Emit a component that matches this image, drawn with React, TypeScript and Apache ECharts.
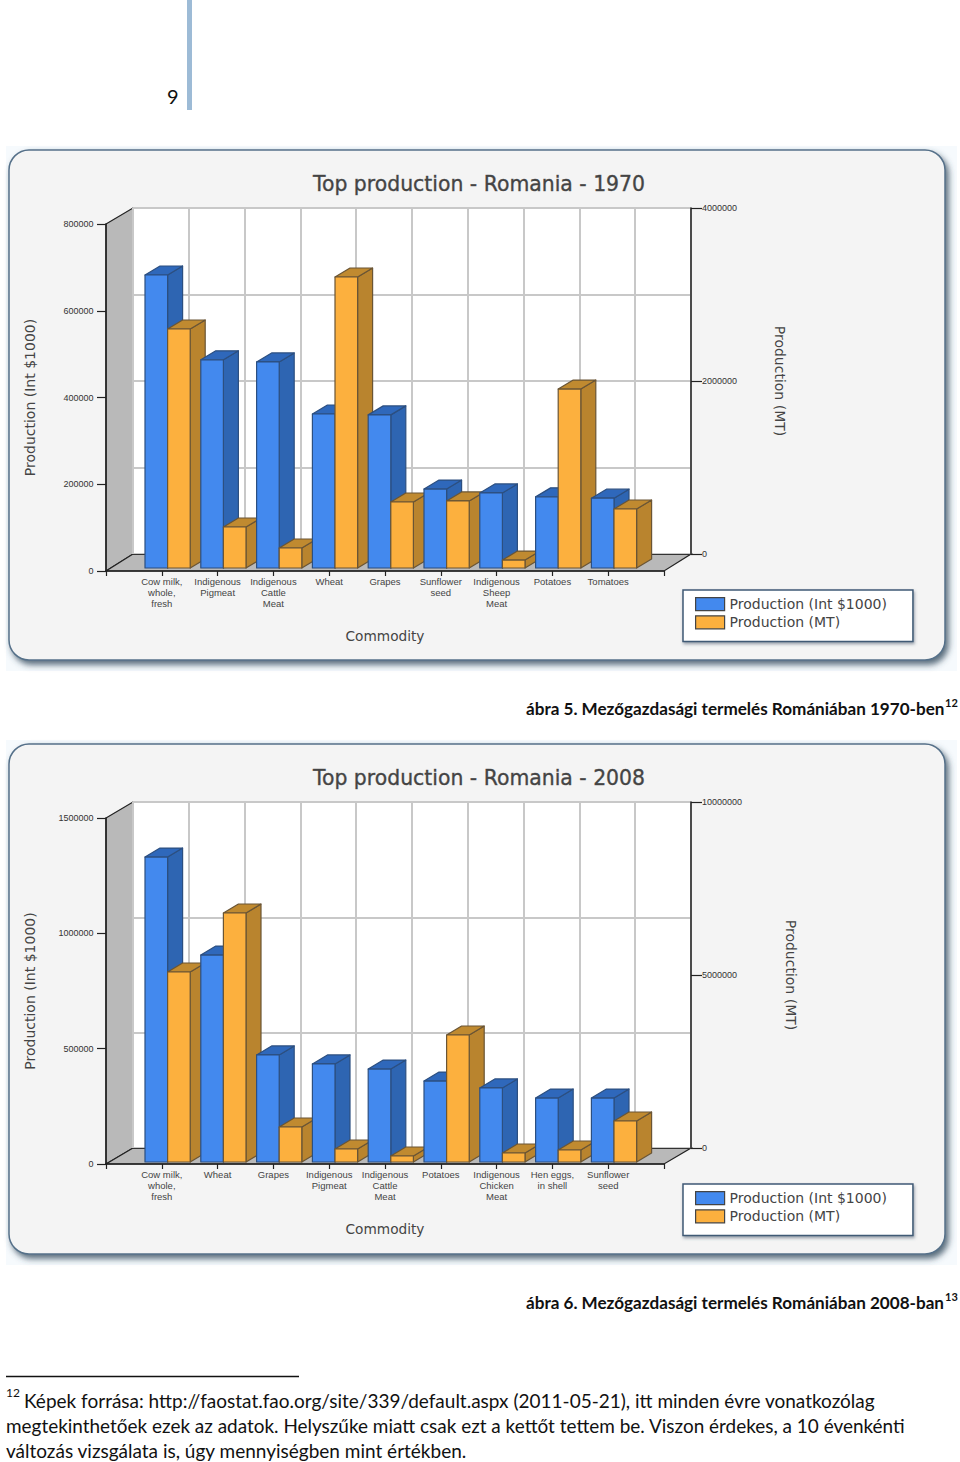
import React, { useEffect, useRef } from "react";
import * as echarts from "echarts";

const W = 960;
const H = 1462;
const BLUE_NAME = "Production (Int $1000)";
const ORANGE_NAME = "Production (MT)";

const cats1970 = ["", "Cow milk,\nwhole,\nfresh", "Indigenous\nPigmeat", "Indigenous\nCattle\nMeat", "Wheat", "Grapes", "Sunflower\nseed", "Indigenous\nSheep\nMeat", "Potatoes", "Tomatoes", " "];
const value1970 = [675500, 480000, 475000, 355000, 353000, 182000, 173000, 164000, 161000];
const tonnes1970 = [2763000, 474000, 231000, 3364000, 763000, 775000, 92000, 2069000, 682000];

const cats2008 = ["", "Cow milk,\nwhole,\nfresh", "Wheat", "Grapes", "Indigenous\nPigmeat", "Indigenous\nCattle\nMeat", "Potatoes", "Indigenous\nChicken\nMeat", "Hen eggs,\nin shell", "Sunflower\nseed", " "];
const value2008 = [1322000, 897000, 464000, 425000, 403000, 351000, 321000, 277000, 277000];
const tonnes2008 = [5491000, 7196000, 1011000, 376000, 173000, 3670000, 260000, 347000, 1185000];

const footnoteLines = [
  "Képek forrása: http://faostat.fao.org/site/339/default.aspx (2011-05-21), itt minden évre vonatkozólag",
  "megtekinthetőek ezek az adatok. Helyszűke miatt csak ezt a kettőt tettem be. Viszon érdekes, a 10 évenkénti",
  "változás vizsgálata is, úgy mennyiségben mint értékben.",
];

const BLUE = { front: "#4389ee", side: "#2e65b2", top: "#2f68bb", stroke: "#2c4f80" };
const ORANGE = { front: "#fcb03e", side: "#b9842e", top: "#c08a30", stroke: "#6a5535" };
const CHART_FONT = "DejaVu Sans";
const LABEL_FONT = "Liberation Sans";
const DOC_FONT = "Lato";
const DX = 15;
const DY = -9;

function barRenderer(c: any, shiftX: number, shiftY: number, side: number, order: number) {
  return (_p: any, api: any) => {
    const cat = api.value(0);
    const a = api.coord([cat, api.value(1)]);
    const b = api.coord([cat, 0]);
    const w = api.size([1, 0])[0] * 0.405;
    const xm = a[0] + shiftX;
    const xl = side < 0 ? xm - w : xm;
    const xr = side < 0 ? xm : xm + w;
    const yt = a[1] + shiftY;
    const yb = b[1] + shiftY;
    const z2 = cat * 10 + order;
    const st = (fill: string) => ({ fill, stroke: c.stroke, lineWidth: 1.2, lineJoin: "round" });
    return {
      type: "group",
      children: [
        { type: "polygon", z2, shape: { points: [[xr, yt], [xr + DX, yt + DY], [xr + DX, yb + DY], [xr, yb]] }, style: st(c.side) },
        { type: "polygon", z2, shape: { points: [[xl, yt], [xl + DX, yt + DY], [xr + DX, yt + DY], [xr, yt]] }, style: st(c.top) },
        { type: "rect", z2: z2 + 1, shape: { x: xl, y: yt, width: xr - xl, height: yb - yt }, style: st(c.front) },
      ],
    };
  };
}

const numFmt = (v: number) => String(v);

function chartParts(i: number, dy: number, year: string, cats: string[], blue: number[], orange: number[],
  leftMax: number, leftStep: number, rightMax: number, rightStep: number, frontTop: number, frontH: number, rightNameGap: number, blueShiftY: number) {
  const backTop = 208 + dy;
  const backH = 346;
  const frontBottom = frontTop + frontH;
  const backBottom = backTop + backH;
  const gi = i * 2;
  const yi = i * 3;
  const labelStyle = { fontFamily: LABEL_FONT, fontSize: 9, color: "#333" };
  const nameStyle = { fontFamily: CHART_FONT, fontSize: 14, color: "#444" };
  const grids = [
    { left: 106, top: frontTop, width: 558, height: frontH, containLabel: false },
    { left: 133, top: backTop, width: 558, height: backH, show: true, backgroundColor: "#ffffff", borderWidth: 0 },
  ];
  const xAxes = [
    {
      type: "category", gridIndex: gi, data: cats, boundaryGap: false,
      axisLine: { lineStyle: { color: "#222", width: 1.5 } }, axisTick: { show: true, length: 5, alignWithLabel: true, lineStyle: { color: "#222", width: 1.2 } },
      axisLabel: { interval: 0, margin: 5, fontFamily: LABEL_FONT, fontSize: 9.5, lineHeight: 11, color: "#444", verticalAlign: "top" },
      name: "Commodity", nameLocation: "middle", nameGap: 58,
      nameTextStyle: { ...nameStyle, fontSize: 13.7 },
      splitLine: { show: false },
    },
    {
      type: "category", gridIndex: gi + 1, data: cats, boundaryGap: false,
      axisLine: { show: true, lineStyle: { color: "#333", width: 1.2 } }, axisTick: { show: false }, axisLabel: { show: false },
      splitLine: { show: true, interval: 0, lineStyle: { color: "#c8c8c8", width: 2 } },
    },
  ];
  const yAxes = [
    {
      type: "value", gridIndex: gi, min: 0, max: leftMax, interval: leftStep, position: "left",
      axisLine: { show: true, lineStyle: { color: "#222", width: 1.5 } }, axisTick: { show: true, length: 9, lineStyle: { color: "#222", width: 1.2 } },
      axisLabel: { ...labelStyle, margin: 12.5, formatter: numFmt }, splitLine: { show: false },
      name: BLUE_NAME, nameLocation: "middle", nameGap: 69, nameRotate: 90,
      nameTextStyle: nameStyle,
    },
    {
      type: "value", gridIndex: gi + 1, min: 0, max: rightMax, interval: rightStep, position: "right",
      axisLine: { show: true, lineStyle: { color: "#222", width: 1.5 } }, axisTick: { show: true, length: 11, lineStyle: { color: "#222", width: 1.2 } },
      axisLabel: { ...labelStyle, margin: 11, formatter: numFmt }, splitLine: { show: false },
      name: ORANGE_NAME, nameLocation: "middle", nameGap: rightNameGap, nameRotate: -90,
      nameTextStyle: nameStyle,
    },
    {
      type: "value", gridIndex: gi + 1, min: 0, max: leftMax, interval: leftStep, position: "left",
      axisLine: { show: false }, axisTick: { show: false }, axisLabel: { show: false },
      splitLine: { show: true, lineStyle: { color: "#c8c8c8", width: 2 } },
    },
  ];
  const series = [
    {
      type: "custom", name: BLUE_NAME, xAxisIndex: gi, yAxisIndex: yi, clip: false, itemStyle: { color: BLUE.front },
      data: blue.map((v, k) => [k + 1, v]), encode: { x: 0, y: 1 },
      renderItem: barRenderer(BLUE, 5.8, blueShiftY, -1, 0),
    },
    {
      type: "custom", name: ORANGE_NAME, xAxisIndex: gi + 1, yAxisIndex: yi + 1, clip: false, itemStyle: { color: ORANGE.front },
      data: orange.map((v, k) => [k + 1, v]), encode: { x: 0, y: 1 },
      renderItem: barRenderer(ORANGE, -21.2, 14, 1, 5),
    },
  ];
  const panelTop = 150 + dy;
  const panelBottom = 660 + dy;
  const decor = [
    { type: "rect", z: -20, shape: { x: 6, y: panelTop - 4, width: 951, height: panelBottom - panelTop + 15 }, style: { fill: "#f6fafd" } },
    {
      type: "rect", z: -19, shape: { x: 9, y: panelTop, width: 936, height: panelBottom - panelTop, r: 20 },
      style: { fill: "#f4f4f4", stroke: "#557089", lineWidth: 1.5, shadowColor: "rgba(50,70,90,0.8)", shadowBlur: 6, shadowOffsetX: 3, shadowOffsetY: 4 },
    },
    { type: "polygon", z: -5, shape: { points: [[106, frontTop], [133, backTop], [133, backBottom], [106, frontBottom]] }, style: { fill: "#b9b9b9", stroke: "#222", lineWidth: 1.2 } },
    { type: "polygon", z: -5, shape: { points: [[106, frontBottom], [133, backBottom], [691, backBottom], [664, frontBottom]] }, style: { fill: "#b9b9b9", stroke: "#222", lineWidth: 1.2 } },
  ];
  const title = {
    text: `Top production - Romania - ${year}`, left: 479, top: 174 + dy, padding: 0, textAlign: "center",
    textStyle: { fontFamily: CHART_FONT, fontSize: 20.4, fontWeight: "normal", color: "#444", textBorderColor: "#666", textBorderWidth: 0.4 },
  };
  const legend = {
    left: 683, top: 590 + dy, orient: "vertical", selectedMode: false, icon: "rect", align: "left",
    itemWidth: 29, itemHeight: 13, itemGap: 4, padding: [7, 26, 12, 12],
    backgroundColor: "#ffffff", borderColor: "#3f5a75", borderWidth: 1.5, borderRadius: 0,
    shadowColor: "rgba(60,80,100,0.5)", shadowBlur: 3, shadowOffsetX: 1, shadowOffsetY: 2,
    itemStyle: { borderColor: "#444", borderWidth: 1.2 },
    textStyle: { fontFamily: CHART_FONT, fontSize: 14, lineHeight: 13, height: 13, color: "#444" },
    data: [BLUE_NAME, ORANGE_NAME],
  };
  return { grids, xAxes, yAxes, series, decor, title, legend };
}

function docText(text: string, x: number, y: number, size: number, extra: any = {}) {
  return {
    type: "text", z: 50, x, y,
    style: { text, fontFamily: DOC_FONT, fontSize: size, fill: "#111", verticalAlign: "middle", ...extra },
  };
}

export default function App() {
  const ref = useRef<HTMLDivElement>(null);
  useEffect(() => {
    const chart = echarts.init(ref.current!, undefined, { renderer: "svg" });
    const a = chartParts(0, 0, "1970", cats1970, value1970, tonnes1970, 800000, 200000, 4000000, 2000000, 224, 347, 82, -3);
    const b = chartParts(1, 594, "2008", cats2008, value2008, tonnes2008, 1500000, 500000, 10000000, 5000000, 818, 346, 93, -2);
    chart.setOption({
      animation: false,
      backgroundColor: "#ffffff",
      tooltip: { show: false },
      title: [a.title, b.title],
      legend: [a.legend, b.legend],
      grid: [...a.grids, ...b.grids],
      xAxis: [...a.xAxes, ...b.xAxes],
      yAxis: [...a.yAxes, ...b.yAxes],
      series: [...a.series, ...b.series],
      graphic: {
        elements: [
          ...a.decor,
          ...b.decor,
          { type: "rect", z: 50, shape: { x: 187, y: 0, width: 5, height: 110 }, style: { fill: "#9dbbd6" } },
          docText("9", 167, 96, 20),
          docText("ábra 5. Mezőgazdasági termelés Romániában 1970-ben", 526, 708, 17.1, { fontWeight: "bold" }),
          docText("12", 945, 702, 11, { fontWeight: "bold" }),
          docText("ábra 6. Mezőgazdasági termelés Romániában 2008-ban", 526, 1302, 17.1, { fontWeight: "bold" }),
          docText("13", 945, 1296, 11, { fontWeight: "bold" }),
          { type: "line", z: 50, shape: { x1: 6, y1: 1376.5, x2: 299, y2: 1376.5 }, style: { stroke: "#111", lineWidth: 1.5 } },
          docText("12", 6, 1392, 12),
          docText(footnoteLines[0], 24, 1400, 19),
          docText(footnoteLines[1], 6, 1425, 18.95),
          docText(footnoteLines[2], 6, 1450, 19),
        ],
      },
    });
    return () => chart.dispose();
  }, []);
  return <div ref={ref} style={{ position: "absolute", left: 0, top: 0, width: W, height: H }} />;
}
